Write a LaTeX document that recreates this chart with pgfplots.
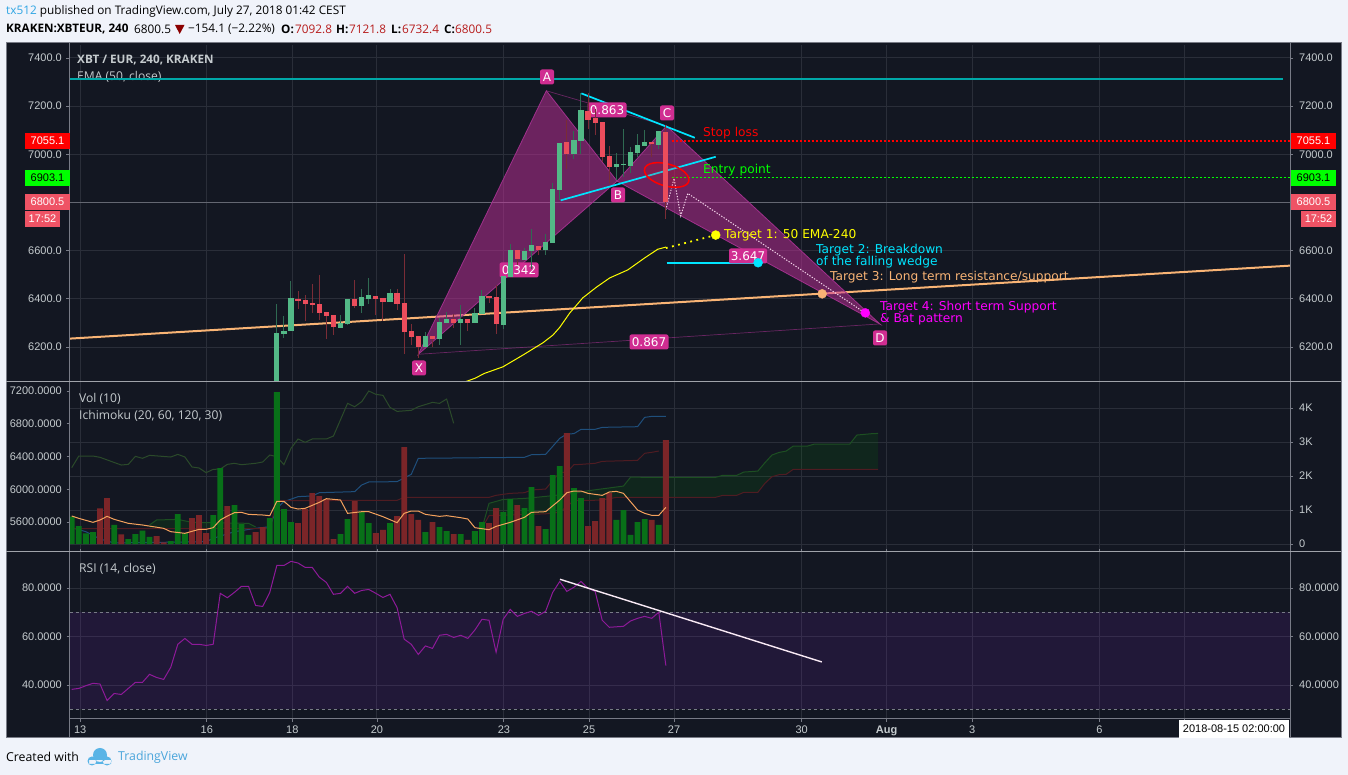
\documentclass[border=0pt]{standalone}
\usepackage{fontspec}
\setmainfont{Open Sans}
\newfontfamily\lib{Liberation Sans}
\newfontfamily\dv{DejaVu Sans}
\usepackage{pgfplots}
\usepackage{pgfplotstable}
\pgfplotsset{compat=1.18}
\definecolor{page}{HTML}{F0F3FA}
\definecolor{panel}{HTML}{131722}
\definecolor{gridc}{HTML}{2A2E39}
\definecolor{frame}{HTML}{787B86}
\definecolor{lab}{HTML}{C5CBCE}
\definecolor{up}{HTML}{53B987}
\definecolor{down}{HTML}{EB4D5C}
\definecolor{upw}{HTML}{2F6A52}
\definecolor{downw}{HTML}{7A2C36}
\definecolor{volg}{HTML}{087018}
\definecolor{volr}{HTML}{7B2528}
\definecolor{tag}{HTML}{D02D91}
\definecolor{pat}{HTML}{C62F9C}
\definecolor{patl}{HTML}{A0308C}
\definecolor{orangeL}{HTML}{F9B475}
\definecolor{orangeM}{HTML}{F5A25D}
\definecolor{cyanL}{HTML}{00E5FF}
\definecolor{levelteal}{HTML}{00A8A8}
\definecolor{rsi}{HTML}{8E1A99}
\definecolor{band}{HTML}{7A22C0}
\definecolor{lagg}{HTML}{2B4A2A}
\definecolor{blueI}{HTML}{1F4F7C}
\definecolor{redI}{HTML}{4F1C22}
\definecolor{greenI}{HTML}{1D4F22}
\definecolor{tri}{HTML}{8B0000}
\definecolor{logo}{HTML}{59B4E6}
\definecolor{tvb}{HTML}{4AA5DB}
\definecolor{namec}{HTML}{2FA5E3}
\definecolor{magentaL}{HTML}{FF00FF}
\definecolor{greenL}{HTML}{00FF00}
\definecolor{redL}{HTML}{FF0000}
\definecolor{yellowL}{HTML}{FFFF00}
\definecolor{tagred}{HTML}{EF5365}
\definecolor{hdred}{HTML}{B71C1C}

\pgfplotstableread{
i b t h l
28 6040 6258 6378 6030
29 6254 6266 6328 6237
30 6266 6403 6474 6266
37 6279 6299 6332 6279
38 6295 6399 6399 6291
40 6370 6407 6440 6341
41 6399 6416 6485 6378
44 6387 6424 6440 6387
49 6200 6245 6262 6200
51 6233 6303 6320 6208
52 6299 6316 6345 6299
54 6299 6316 6374 6208
56 6299 6341 6362 6299
57 6337 6411 6436 6337
60 6291 6494 6494 6274
61 6490 6602 6627 6490
63 6561 6598 6613 6561
64 6598 6623 6690 6524
66 6602 6636 6669 6582
67 6632 6856 6879 6632
68 6852 7047 7047 6810
70 7001 7059 7097 6980
71 7055 7184 7253 7001
76 6947 6960 7004 6893
77 6955 6960 7104 6907
78 6951 7010 7032 6921
79 7005 7039 7083 6990
80 7034 7051 7101 7034
82 7039 7097 7097 7022
}\candleup
\pgfplotstableread{
i b t h l
31 6391 6399 6432 6357
32 6378 6395 6416 6308
33 6374 6382 6461 6341
34 6341 6378 6501 6312
35 6328 6345 6345 6233
36 6283 6332 6332 6250
39 6370 6399 6478 6362
42 6399 6411 6411 6333
43 6387 6403 6403 6308
45 6378 6424 6440 6353
46 6262 6382 6586 6171
47 6241 6266 6295 6208
48 6200 6245 6245 6154
50 6233 6245 6245 6200
53 6299 6316 6337 6279
55 6299 6316 6316 6266
58 6403 6411 6411 6382
59 6295 6407 6457 6254
62 6565 6602 6602 6540
65 6602 6619 6619 6582
69 7001 7051 7142 6939
72 7142 7180 7253 7105
73 7130 7151 7188 7080
74 6989 7134 7134 6968
75 6947 6993 7034 6879
81 7043 7051 7051 6990
83 6800.5 7092.8 7121.8 6732.4
}\candledown
\pgfplotstableread{
i v
-1 804
0 529
1 314
2 353
5 559
7 147
8 294
9 392
10 206
13 88
14 882
15 323
19 853
20 2234
22 1147
23 588
24 265
27 764
28 4469
29 1029
30 647
37 294
38 735
40 941
41 617
44 617
49 353
51 500
52 382
54 294
56 382
57 647
60 941
61 1323
63 1058
64 1676
66 441
67 2029
68 2293
70 1646
71 1352
76 706
77 1000
78 265
79 647
80 735
82 559
}\volup
\pgfplotstableread{
i v
3 1049
4 1352
6 284
11 235
12 49
16 764
17 853
18 323
21 1117
25 353
26 500
31 617
32 1029
33 1499
34 1411
35 1323
36 147
39 1264
42 323
43 412
45 823
46 2852
47 882
48 706
50 647
53 294
55 118
58 617
59 1058
62 1147
65 529
69 3263
72 529
73 676
74 1352
75 1499
81 706
83 3058
}\voldown
\pgfplotstableread{
i v
-1 823
0 755
2 637
3 706
4 813
5 725
7 608
9 559
12 461
13 363
15 314
17 431
18 431
19 480
20 706
21 823
22 921
23 931
24 872
26 853
27 833
28 1254
29 1254
30 1078
31 1029
32 1049
34 1225
35 1333
37 1294
38 902
40 951
41 951
43 804
45 627
46 902
47 970
48 970
49 872
51 813
52 833
54 774
55 735
56 480
58 421
59 519
61 637
63 784
64 931
66 951
68 1294
69 1509
70 1558
71 1558
72 1490
74 1431
75 1529
76 1548
77 1490
79 1000
80 902
81 843
82 843
83 1078
}\volma
\pgfplotstableread{
i v
-1 6264
0 6406
2 6406
3 6390
6 6296
7 6304
8 6402
9 6378
10 6414
13 6394
14 6426
15 6394
16 6272
17 6260
18 6203
19 6243
20 6247
21 6304
22 6317
23 6300
25 6317
26 6333
27 6418
28 6398
29 6300
30 6500
31 6614
32 6573
33 6614
35 6614
36 6650
38 7049
39 7008
40 7070
41 7200
42 7159
43 7147
44 7000
45 6951
47 6964
48 7008
50 7061
51 7049
52 7102
53 6805
}\lagspan
\pgfplotstableread{
i v
-1 5531
1 5482
3 5393
5 5344
18 5360
19 5401
22 5482
25 5523
27 5543
28 5767
29 5849
31 5910
33 5918
34 5958
39 5971
40 6052
41 6089
45 6093
47 6182
48 6378
63 6390
64 6422
66 6426
68 6622
69 6675
70 6679
71 6732
73 6732
74 6756
79 6764
80 6878
81 6890
83 6890
}\tenkan
\pgfplotstableread{
i v
-1 5520
27 5520
28 5861
45 5865
46 5901
58 5901
59 5926
61 5950
63 5958
64 5991
66 6003
68 6207
69 6207
70 6300
71 6304
73 6317
74 6341
79 6353
80 6439
81 6451
82 6467
}\kijun
\pgfplotstableread{
i v
-1 38.2
0 38.6
1 39.7
2 40.7
3 40.4
4 33.6
5 36.5
6 36.1
7 38.6
8 41.1
9 41.1
10 44.4
11 43.1
12 42.3
13 47.3
14 56.8
15 59.2
16 56.8
17 56.8
18 56.3
19 56.8
20 77.8
21 76.0
22 78.2
23 80.7
24 80.7
25 72.8
26 72.4
27 78.2
28 89.3
29 89.3
30 91.0
31 90.3
32 88.5
33 88.5
34 84.5
35 82.3
36 77.4
37 77.8
38 80.7
39 77.8
40 79.0
41 79.4
42 77.8
43 76.1
44 77.4
45 71.9
46 58.9
47 56.8
48 52.6
49 56.1
50 55.1
51 60.5
52 60.9
53 59.6
54 60.5
55 59.2
56 62.7
57 67.1
58 66.7
59 53.5
60 67.1
61 71.2
62 68.3
63 69.5
64 70.4
65 68.7
66 70.4
67 78.2
68 82.7
69 78.6
70 80.3
71 82.7
72 79.9
73 78.6
74 66.7
75 63.8
76 64.0
77 64.2
78 66.4
79 67.5
80 68.3
81 67.5
82 70.0
83 48.0
}\rsidata

\pgfplotsset{
  base/.style={
    scale only axis, width=1220.5pt, xmin=-1.315, xmax=171.24,
    axis line style={draw=none}, tick align=outside, major tick length=3pt,
    tick style={color=frame,line width=0.8pt},
    xtick={0.2,18.1,30.18,42.15,60.1,72.14,84.16,102.2,114.2,126.3,144.3,156.3},
    grid=major, major grid style={color=gridc,line width=1pt},
    xticklabels={}, xtick style={draw=none},
    every tick label/.append style={font=\lib\fontsize{11}{13}\selectfont, text=lab},
    clip=true,
  },
  over/.style={base, grid=none, xtick=\empty, ytick pos=right, yticklabel pos=right,
    yticklabel style={inner sep=0pt,anchor=west,xshift=6pt}},
  lft/.style={ytick pos=left, yticklabel pos=left,
    yticklabel style={inner sep=0pt,anchor=east,xshift=-4.5pt}},
  main/.style={at={(69.5pt,393pt)},anchor=south west,height=337pt,ymin=6055,ymax=7454},
  volp/.style={at={(69.5pt,223pt)},anchor=south west,height=170pt,ymin=-235,ymax=4765},
  ichp/.style={at={(69.5pt,223pt)},anchor=south west,height=170pt,ymin=5234,ymax=7310},
  rsip/.style={at={(69.5pt,56pt)},anchor=south west,height=167pt,ymin=25.98,ymax=94.85},
  bare/.style={base, grid=none, hide axis},
}
\tikzset{
  tagn/.style={fill=tag,rounded corners=2pt,text=white,inner sep=0pt,minimum height=15pt,font=\dv\fontsize{12}{14}\selectfont},
  ann/.style={anchor=west,inner sep=0pt,font=\dv\fontsize{12.2}{12}\selectfont},
  lbl/.style={anchor=west,inner sep=0pt,text=lab,font=\fontsize{12.1}{14}\selectfont},
  hd/.style={anchor=west,inner sep=0pt,text=black,font=\fontsize{11.8}{14}\selectfont},
  hdb/.style={hd,font=\bfseries\fontsize{11.7}{14}\selectfont},
  pricet/.style={inner sep=0pt,minimum height=16pt,font=\lib\fontsize{11}{13}\selectfont},
}
\begin{document}
\begin{tikzpicture}[x=1pt,y=1pt]
\useasboundingbox (0,0) rectangle (1348,775);
\fill[page] (0,0) rectangle (1348,775);
\fill[panel] (6,37) rectangle (1341,732);

% ---------- price pane: grid, drawings
\begin{axis}[base,main,lft,
  ytick={6200,6400,6600,6800,7000,7200,7400},
  yticklabels={6200.0,6400.0,6600.0,,7000.0,7200.0,7400.0},
]
\addplot[color=orangeL,line width=2pt] coordinates {(-1.315,6235)(171.24,6538)};
\addplot[color=frame,line width=0.8pt,opacity=.75] coordinates {(-1.315,6800.5)(171.24,6800.5)};
\addplot[fill=pat,fill opacity=.5,draw=patl,line width=.8pt] coordinates {(48,6170)(66.1,7264)(76.1,6889)} --cycle;
\addplot[fill=pat,fill opacity=.5,draw=patl,line width=.8pt] coordinates {(76.1,6889)(83.1,7118)(113.25,6296)} --cycle;
\addplot[color=patl,opacity=.6,line width=.7pt] coordinates {(48,6170)(113.25,6296)};
\addplot[color=patl,opacity=.6,line width=.7pt] coordinates {(66.1,7264)(83.1,7118)};
\addplot[color=redL,line width=1.6pt,dash pattern=on 2.5pt off 1.5pt] coordinates {(83.8,7055.1)(171.24,7055.1)};
\addplot[color=greenL,line width=1.6pt,dash pattern=on 2.5pt off 1.5pt] coordinates {(83.8,6903.1)(171.24,6903.1)};
\addplot[color=cyanL,line width=1.7pt] coordinates {(71.06,7253)(87.09,7069)};
\addplot[color=cyanL,line width=1.7pt] coordinates {(68.13,6809)(90.05,6990)};
\addplot[color=cyanL,line width=1.7pt] coordinates {(83.1,6550)(96.04,6550)};
\addplot[color=white!80!pat,line width=1pt,dash pattern=on 1.3pt off 1.5pt] coordinates {(82.98,6769)(84.16,6900)(85.1,6745)(86.1,6838)(111.13,6342)};
\addplot[color=yellowL,line width=1.8pt,dash pattern=on 1.8pt off 4.5pt] coordinates {(83,6611)(90.05,6665)};
\addplot[only marks,mark=*,mark size=4.5pt,mark options={fill=yellowL,draw=yellowL}] coordinates {(90.05,6665)};
\addplot[only marks,mark=*,mark size=4.5pt,mark options={fill=orangeL,draw=orangeL}] coordinates {(105.1,6421)};
\end{axis}

% tags behind the candles
\node[tagn,minimum width=14pt] at (618,580) {B};
\node[tagn,minimum width=14pt] at (667,662) {C};
\node[tagn,minimum width=14pt] at (880,437) {D};
\node[tagn,minimum width=14pt] at (419,407) {X};
\node[tagn,minimum width=39pt] at (607,665) {0.863};
\node[tagn,minimum width=39pt] at (519,505) {0.342};
\node[tagn,minimum width=38pt] at (748,519) {3.647};
\node[tagn,minimum width=39pt] at (649,433) {0.867};
\draw[color=redL,line width=1.5pt,fill=redL,fill opacity=.16] (666.7,600) ellipse [x radius=23,y radius=11,rotate=-16];

% candles and EMA
\begin{axis}[bare,main]
\addplot[draw=none,forget plot,mark=none,error bars/.cd,y dir=minus,y explicit,error mark=none,error bar style={color=upw,line width=1pt}]
  table[x=i,y=h,y error minus expr=\thisrow{h}-\thisrow{l}] {\candleup};
\addplot[draw=none,forget plot,mark=none,error bars/.cd,y dir=minus,y explicit,error mark=none,error bar style={color=downw,line width=1pt}]
  table[x=i,y=h,y error minus expr=\thisrow{h}-\thisrow{l}] {\candledown};
\addplot[draw=none,forget plot,mark=none,error bars/.cd,y dir=plus,y explicit,error mark=none,error bar style={color=up,line width=5.2pt}]
  table[x=i,y=b,y error plus expr=\thisrow{t}-\thisrow{b}] {\candleup};
\addplot[draw=none,forget plot,mark=none,error bars/.cd,y dir=plus,y explicit,error mark=none,error bar style={color=down,line width=5.2pt}]
  table[x=i,y=b,y error plus expr=\thisrow{t}-\thisrow{b}] {\candledown};
\addplot[color=yellowL,line width=1pt] coordinates {(54.56,6055)(55.97,6070)(57.38,6091)(59.97,6118)(62.8,6167)(65.63,6218)(67.04,6250)(68,6282)(69.4,6341)(71.24,6404)(73.2,6449)(75.06,6487)(77.6,6520)(80,6570)(81.85,6606)(83,6615)};
\addplot[only marks,mark=*,mark size=4.5pt,mark options={fill=cyanL,draw=cyanL}] coordinates {(96.04,6550)};
\addplot[only marks,mark=*,mark size=4.5pt,mark options={fill=magentaL,draw=magentaL}] coordinates {(111.2,6342)};
\end{axis}
% right labels price pane
\begin{axis}[over,main,ytick={6200,6400,6600,7000,7200,7400},yticklabels={6200.0,6400.0,6600.0,7000.0,7200.0,7400.0}]
\end{axis}

% ---------- volume pane
\begin{axis}[base,volp,ytick={0,1000,2000,3000,4000},ytick pos=right,yticklabel pos=right,yticklabels={0,1K,2K,3K,4K},
  yticklabel style={inner sep=0pt,anchor=west,xshift=6pt}]
\end{axis}
\begin{axis}[base,grid=none,ichp,lft,xtick=\empty,ytick={5600,6000,6400,6800,7200},yticklabels={5600.0000,6000.0000,6400.0000,6800.0000,7200.0000}]
\addplot[fill=green!55!black,fill opacity=.13,draw=none] coordinates {(10,5564)(11,5625)(14,5632)(16,5596)(24,5584)(25,5540)(25,5523)(10,5523)} --cycle;
\addplot[fill=green!55!black,fill opacity=.13,draw=none] coordinates {(58,5828)(60,5876)(63,5888)(66,5913)(70,5950)(72,5982)(77,6039)(78,6147)(90,6145)(91,6169)(93,6169)(94,6210)(96,6222)(97,6324)(98,6418)(99,6450)(100,6466)(101,6527)(103,6527)(104,6552)(109,6552)(110,6662)(112,6678)(113,6682)(113,6243)(101,6243)(100,6182)(99,6178)(98,6153)(97,6072)(96,5962)(94,5962)(93,5925)(91,5925)(90,5901)(76,5901)(74,5868)(70,5860)(68,5720)(66,5700)(58,5678)} --cycle;
\addplot[color=greenI,line width=1pt] coordinates {(10,5564)(11,5625)(14,5632)(16,5596)(24,5584)(25,5540)};
\addplot[color=greenI,line width=1pt] coordinates {(57,5523)(58,5828)(60,5876)(63,5888)(66,5913)(70,5950)(72,5982)(77,6039)(78,6147)(90,6145)(91,6169)(93,6169)(94,6210)(96,6222)(97,6324)(98,6418)(99,6450)(100,6466)(101,6527)(103,6527)(104,6552)(109,6552)(110,6662)(112,6678)(113,6682)};
\addplot[color=redI,line width=1pt] coordinates {(57,5523)(58,5678)(66,5700)(68,5720)(70,5860)(74,5868)(76,5901)(90,5901)(91,5925)(93,5925)(94,5962)(96,5962)(97,6072)(98,6153)(99,6178)(100,6182)(101,6243)(113,6243)};
\addplot[color=lagg,line width=1pt] table[x=i,y=v] {\lagspan};
\addplot[color=blueI,line width=1pt] table[x=i,y=v] {\tenkan};
\addplot[color=redI,line width=1pt] table[x=i,y=v] {\kijun};
\end{axis}
\begin{axis}[bare,volp]
\addplot[ybar,bar width=5.8pt,bar shift=0pt,fill=volg,draw=none] table[x=i,y=v] {\volup};
\addplot[ybar,bar width=5.8pt,bar shift=0pt,fill=volr,draw=none] table[x=i,y=v] {\voldown};
\addplot[color=orangeM,line width=1pt] table[x=i,y=v] {\volma};
\end{axis}

% ---------- RSI pane
\begin{axis}[base,rsip,lft,ytick={40,60,80},yticklabels={40.0000,60.0000,80.0000},
  xticklabels={13,16,18,20,23,25,27,30,{\bfseries Aug},3,6,},xtick style={draw=frame},
  xticklabel style={inner sep=0pt,yshift=-4pt}]
\addplot[fill=band,fill opacity=.14,draw=none] coordinates {(-1.315,30)(171.24,30)(171.24,70)(-1.315,70)} --cycle;
\addplot[color=frame,line width=.8pt,dash pattern=on 3pt off 3pt] coordinates {(-1.315,70)(171.24,70)};
\addplot[color=frame,line width=.8pt,dash pattern=on 3pt off 3pt] coordinates {(-1.315,30)(171.24,30)};
\addplot[color=rsi,line width=1pt] table[x=i,y=v] {\rsidata};
\addplot[color=white!90!pat,line width=1.4pt] coordinates {(68.03,83.6)(105.05,49.5)};
\end{axis}
\begin{axis}[over,rsip,ytick={40,60,80},yticklabels={40.0000,60.0000,80.0000}]
\end{axis}

% frame lines
\draw[frame,line width=1pt] (6,37) rectangle (1341,732);
\draw[frame,line width=1pt] (69.5,37) -- (69.5,732);
\draw[frame,line width=1pt] (1290,37) -- (1290,732);
\draw[frame!70!white,line width=1pt] (6,393) -- (1341,393);
\draw[frame!70!white,line width=1pt] (6,223) -- (1341,223);
\draw[frame,line width=1pt] (69.5,56) -- (1290,56);

% date box
\fill[white] (1179,37) rectangle (1289,55);
\node[inner sep=0pt,font=\lib\fontsize{11}{13}\selectfont,text=black] at (1234,46) {2018-08-15 02:00:00};

% price tags
\node[pricet,fill=redL,text=white,minimum width=45pt] at (47.5,634) {7055.1};
\node[pricet,fill=greenL,text=black,minimum width=45pt] at (47.5,597) {6903.1};
\node[pricet,fill=tagred,text=white,minimum width=45pt] at (47.5,573) {6800.5};
\node[pricet,fill=tagred,text=white,minimum width=35pt] at (42.5,556) {17:52};
\node[pricet,fill=redL,text=white,minimum width=45pt] at (1313.5,634) {7055.1};
\node[pricet,fill=greenL,text=black,minimum width=45pt] at (1313.5,597) {6903.1};
\node[pricet,fill=tagred,text=white,minimum width=45pt] at (1313.5,573) {6800.5};
\node[pricet,fill=tagred,text=white,minimum width=35pt] at (1318.5,556) {17:52};

% annotations
\node[ann,text=redL] at (703,641.5) {Stop loss};
\node[ann,text=greenL] at (703,604.5) {Entry point};
\node[ann,text=yellowL] at (724,539.5) {Target 1: 50 EMA-240};
\node[ann,text=cyanL] at (816,525) {Target 2: Breakdown};
\node[ann,text=cyanL] at (816,513) {of the falling wedge};
\node[ann,text=orangeL] at (830,498) {Target 3: Long term resistance/support};
\node[ann,text=magentaL] at (880,468) {Target 4: Short term Support};
\node[ann,text=magentaL] at (880,456) {\& Bat pattern};

% pane legends
\node[lbl,font=\bfseries\fontsize{11.7}{14}\selectfont] at (77,714.5) {XBT / EUR, 240, KRAKEN};
\node[lbl] at (77,698) {EMA (50, close)};
\node[lbl] at (79,376) {Vol (10)};
\node[lbl] at (79,359) {Ichimoku (20, 60, 120, 30)};
\node[lbl] at (79,206) {RSI (14, close)};

% the long level line, drawn over the legend text
\begin{axis}[bare,main]
\addplot[draw=levelteal,line width=2pt] coordinates {(-1.3,7311)(170.3,7311)};
\end{axis}
\node[tagn,minimum width=14pt] at (547,698) {A};

% header
\node[hd] at (6,764) {\textcolor{namec}{tx512} published on TradingView.com, July 27, 2018 01:42 CEST};
\node[hdb] at (6,746) {KRAKEN:XBTEUR, 240};
\node[hd] at (134,746) {6800.5};
\fill[tri] (175,750) -- (184.5,750) -- (179.7,741) -- cycle;
\node[hd] at (188,746) {−154.1 (−2.22\%)};
\node[hdb] at (281,746) {O:};
\node[hd,text=hdred] at (295,746) {7092.8};
\node[hdb] at (336,746) {H:};
\node[hd,text=hdred] at (349,746) {7121.8};
\node[hdb] at (391,746) {L:};
\node[hd,text=hdred] at (402,746) {6732.4};
\node[hdb] at (444,746) {C:};
\node[hd,text=hdred] at (455,746) {6800.5};

% footer
\node[hd,font=\fontsize{12.3}{14}\selectfont] at (6,18) {Created with};
\fill[logo] (92,14) circle (4.5) (100,20) circle (7) (107,14) circle (4.5) (89,11) rectangle (111,15);
\node[hd,text=tvb,font=\fontsize{12.3}{14}\selectfont] at (118,18) {TradingView};
\end{tikzpicture}
\end{document}
